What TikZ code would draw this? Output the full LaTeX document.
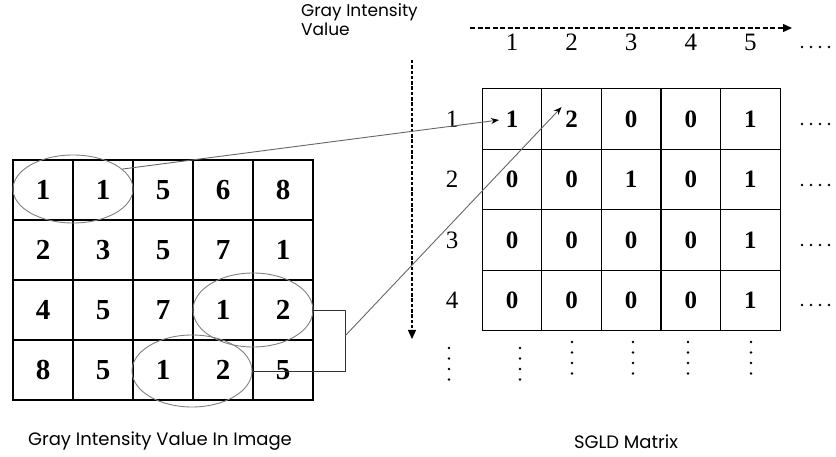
\documentclass[tikz,border=0pt]{standalone}
\usepackage{fontspec}
\setmainfont{Liberation Serif}
\newfontfamily\labfont{Poppins}
\usetikzlibrary{arrows.meta,shapes.geometric}
\tikzset{
  lcell/.style={draw=black,line width=1.4pt,minimum width=60pt,minimum height=60pt,inner sep=0pt,font=\fontsize{29}{32}\selectfont\bfseries},
  rcell/.style={draw=black,line width=1.3pt,minimum width=59.6pt,minimum height=60.5pt,inner sep=0pt,font=\fontsize{25}{30}\selectfont\bfseries},
  hdr/.style={inner sep=0pt,font=\fontsize{25}{30}\selectfont},
  ell/.style={ellipse,draw=black!50,line width=0.9pt,inner sep=0pt},
  conn/.style={draw=black!60,line width=0.9pt,-{Stealth[length=8pt,width=6pt,black]}},
  brk/.style={draw=black!80,line width=0.9pt},
  hdash/.style={draw=black,line width=1.4pt,dash pattern=on 5pt off 2.5pt,-{Triangle[length=9pt,width=8pt]}},
  vdash/.style={draw=black,line width=1.4pt,dash pattern=on 3.5pt off 1.8pt,-{Triangle[length=9pt,width=8pt]}},
  lab/.style={inner sep=0pt,font=\labfont\fontsize{17}{19}\selectfont},
  biglab/.style={inner sep=0pt,font=\labfont\fontsize{18}{20}\selectfont},
  dot/.style={fill=black,circle,inner sep=0pt,minimum size=2.6pt}
}
\begin{document}
\begin{tikzpicture}[x=1pt,y=-1pt]
\useasboundingbox (0,0) rectangle (836,457);
% left grid
\foreach \row [count=\r] in {{1,1,5,6,8},{2,3,5,7,1},{4,5,7,1,2},{8,5,1,2,5}}{
  \foreach \v [count=\c] in \row {
    \node[lcell] (L-\r-\c) at ({43+60*(\c-1)},{190+60*(\r-1)}) {\v};
  }
}
% right grid
\foreach \row [count=\r] in {{1,2,0,0,1},{0,0,1,0,1},{0,0,0,0,1},{0,0,0,0,1}}{
  \foreach \v [count=\c] in \row {
    \node[rcell] (R-\r-\c) at ({512+59.6*(\c-1)},{119+60.5*(\r-1)}) {\v};
  }
}
% headers
\foreach \c in {1,...,5}{
  \node[hdr] (C-\c) at ({512+59.6*(\c-1)},42) {\c};
}
\foreach \r in {1,...,4}{
  \node[hdr] (H-\r) at (452,{119+60.5*(\r-1)}) {\r};
}
% continuation dots to the right
\foreach \yy in {47,124,185,245,305}{
  \foreach \k in {0,...,3}{
    \node[dot] at ({802+9*\k},\yy) {};
  }
}
% continuation dots below
\foreach \xx/\ys in {449/348,520/348,572/342,633/342,688/342,751/342}{
  \foreach \k in {0,...,3}{
    \node[dot] at (\xx,{\ys+10.5*\k}) {};
  }
}
% dashed axes arrows
\coordinate (hs) at (470,28);
\coordinate (he) at (792,28);
\coordinate (vs) at (412,60);
\coordinate (ve) at (412,339);
\draw[hdash] (hs) -- (he);
\draw[vdash] (vs) -- (ve);
% ellipses
\node[ell,minimum width=120pt,minimum height=68pt] (e1) at (73,189) {};
\node[ell,minimum width=120pt,minimum height=74pt] (e2) at (253,310) {};
\node[ell,minimum width=120pt,minimum height=72pt] (e3) at (192,371) {};
% bracket
\coordinate (bk) at (345,336);
\draw[brk] (e2.east) -- ++(32,0) |- (e3.east);
% connectors
\draw[conn] (e1.22) -- ([xshift=-13pt,yshift=-1pt]R-1-1.center);
\draw[conn] (bk) -- ([xshift=-10pt,yshift=12pt]R-1-2.center);
% labels
\node[lab,anchor=north east,align=left] (tl) at (418,3) {Gray Intensity\\Value};
\node[biglab] (bl) at (160,441) {Gray Intensity Value In Image};
\node[biglab] (sl) at (626,442) {SGLD Matrix};
\end{tikzpicture}
\end{document}
